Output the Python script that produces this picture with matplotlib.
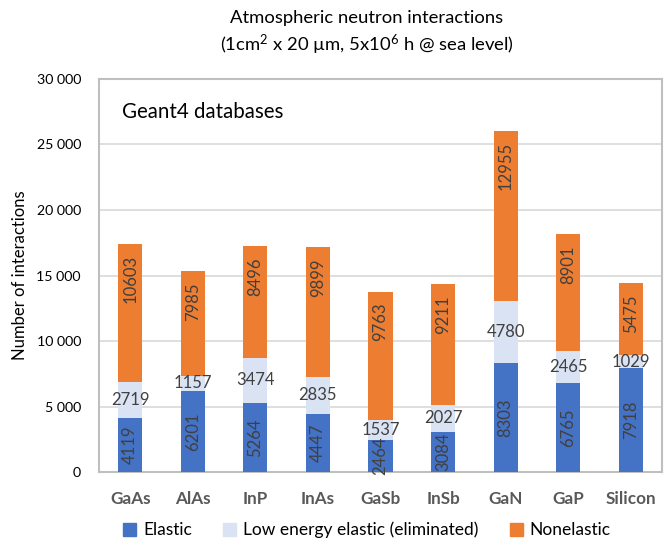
import matplotlib
matplotlib.use("Agg")
import matplotlib.pyplot as plt
import numpy as np
from matplotlib.patches import Patch

plt.rcParams['font.family'] = ['Lato', 'DejaVu Sans']
plt.rcParams['mathtext.fontset'] = 'custom'
plt.rcParams['mathtext.rm'] = 'Lato'
plt.rcParams['mathtext.it'] = 'Lato'

categories = ["GaAs", "AlAs", "InP", "InAs", "GaSb", "InSb", "GaN", "GaP", "Silicon"]
elastic = [4119, 6201, 5264, 4447, 2464, 3084, 8303, 6765, 7918]
low_energy = [2719, 1157, 3474, 2835, 1537, 2027, 4780, 2465, 1029]
nonelastic = [10603, 7985, 8496, 9899, 9763, 9211, 12955, 8901, 5475]
series_names = ["Elastic", "Low energy elastic (eliminated)", "Nonelastic"]
yticks = [0, 5000, 10000, 15000, 20000, 25000, 30000]
ytick_labels = ["0", "5 000", "10 000", "15 000", "20 000", "25 000", "30 000"]

c_el = "#4472C4"
c_low = "#DAE3F3"
c_non = "#ED7D31"
lab_col = "#404040"

fig = plt.figure(figsize=(6.67, 5.41), dpi=100)
ax = fig.add_axes([0.1484, 0.1275, 0.8441, 0.7265])

x = np.arange(len(categories))
w = 0.385
el = np.array(elastic)
lo = np.array(low_energy)
no = np.array(nonelastic)

ax.bar(x, el, w, color=c_el, zorder=3)
ax.bar(x, lo, w, bottom=el, color=c_low, zorder=3)
ax.bar(x, no, w, bottom=el + lo, color=c_non, zorder=3)

for i in range(len(categories)):
    ax.text(x[i], el[i] / 2, str(el[i]), rotation=90, ha='center', va='center',
            fontsize=12, color=lab_col, zorder=4)
    ax.text(x[i], el[i] + lo[i] / 2, str(lo[i]), ha='center', va='center',
            fontsize=12, color=lab_col, zorder=4)
    top = el[i] + lo[i] + no[i]
    ax.annotate(str(no[i]), xy=(x[i], top), xytext=(0, -8), textcoords='offset points',
                rotation=90, ha='center', va='top', fontsize=12, color=lab_col, zorder=4)

ax.set_xlim(-0.5, len(categories) - 0.5)
ax.set_ylim(0, 30000)
ax.set_yticks(yticks)
ax.set_yticklabels(ytick_labels, fontsize=10.2, color='black')
ax.set_xticks(x)
ax.set_xticklabels(categories, fontsize=12.3, fontweight='bold', color='#595959')
ax.tick_params(axis='both', length=0)
ax.tick_params(axis='y', pad=13)
ax.tick_params(axis='x', pad=14)
ax.grid(axis='y', color='#d9d9d9', linewidth=1.2, zorder=0)
ax.set_axisbelow(True)
for s in ax.spines.values():
    s.set_color('#bfbfbf')
    s.set_linewidth(1.5)

ax.set_ylabel("Number of interactions", fontsize=12, color='black', labelpad=6)
ax.text(0.04, 0.915, "Geant4 databases", transform=ax.transAxes, fontsize=14.8,
        ha='left', va='center', color='black')

fig.text(0.55, 1 - 18 / 541, "Atmospheric neutron interactions", ha='center', va='center',
         fontsize=13.3)
fig.text(0.55, 1 - 45 / 541, r"(1cm$^2$ x 20 µm, 5x10$^6$ h @ sea level)", ha='center',
         va='center', fontsize=13.3)

handles = [Patch(color=c_el), Patch(color=c_low), Patch(color=c_non)]
fig.legend(handles, series_names, loc='center', bbox_to_anchor=(0.55, 1 - 530 / 541),
           ncol=3, frameon=False, fontsize=12.5, handlelength=0.75, handleheight=0.75,
           handletextpad=0.4, columnspacing=1.8)

fig.savefig("out.png", dpi=100)
